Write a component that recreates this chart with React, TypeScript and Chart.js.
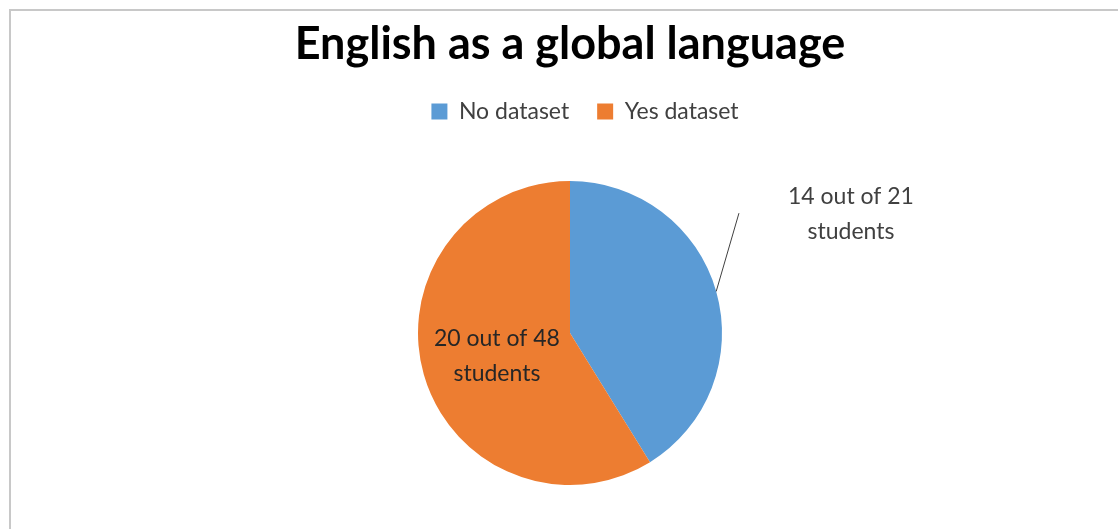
import { useEffect, useRef } from "react";
import { Chart, registerables } from "chart.js";

Chart.register(...registerables);

const TITLE = "English as a global language";
const CATEGORIES = ["No dataset", "Yes dataset"];
const VALUES = [14, 20];
const SLICE_LABELS = [["14 out of 21", "students"], ["20 out of 48", "students"]];
const COLORS = ["#5B9BD5", "#ED7D31"];

const FONT = "Lato, 'DejaVu Sans', sans-serif";

// excel style labels: one outside with a leader line, one inside the slice
const sliceLabels = {
  id: "sliceLabels",
  afterLayout(chart: any) {
    // legend sits a little right of the title in the original
    chart.legend.left += 15;
    chart.legend.right += 15;
  },
  afterDatasetsDraw(chart: Chart) {
    const ctx = chart.ctx;
    const arcs = chart.getDatasetMeta(0).data as any[];
    ctx.save();
    ctx.font = `23px ${FONT}`;
    ctx.textAlign = "center";
    ctx.textBaseline = "middle";
    arcs.forEach((arc, i) => {
      const { x, y, startAngle, endAngle, outerRadius } = arc.getProps(
        ["x", "y", "startAngle", "endAngle", "outerRadius"], true);
      const mid = (startAngle + endAngle) / 2;
      const lines = SLICE_LABELS[i];
      let lx: number, ly: number;
      if (i === 0) {
        const a = mid - 0.123;
        lx = x + Math.cos(a) * outerRadius * 2.007;
        ly = y + Math.sin(a) * outerRadius * 2.007;
        ctx.strokeStyle = "#404040";
        ctx.lineWidth = 1;
        ctx.beginPath();
        ctx.moveTo(x + Math.cos(mid) * outerRadius, y + Math.sin(mid) * outerRadius);
        ctx.lineTo(lx - 112, ly - 1);
        ctx.stroke();
        ctx.fillStyle = "#404040";
      } else {
        lx = x + Math.cos(mid) * outerRadius * 0.5;
        ly = y + Math.sin(mid) * outerRadius * 0.5 + 2;
        ctx.fillStyle = "#262626";
      }
      lines.forEach((t, k) => ctx.fillText(t, lx, ly + (k - (lines.length - 1) / 2) * 35));
    });
    ctx.restore();
  },
};

export default function App() {
  const canvasRef = useRef<HTMLCanvasElement | null>(null);

  useEffect(() => {
    if (!canvasRef.current) return;
    const chart = new Chart(canvasRef.current, {
      type: "pie",
      data: {
        labels: CATEGORIES,
        datasets: [{ data: VALUES, backgroundColor: COLORS, borderWidth: 0 }],
      },
      options: {
        responsive: false,
        animation: false,
        devicePixelRatio: 1,
        radius: 152,
        layout: { padding: { left: 22, right: 0, top: 0, bottom: 9 } },
        plugins: {
          title: {
            display: true,
            text: TITLE,
            color: "#000",
            font: { family: FONT, size: 45, weight: "bold", lineHeight: 1.2 },
            padding: { top: 17, bottom: 1 },
          },
          legend: {
            position: "top",
            labels: {
              color: "#404040",
              font: { family: FONT, size: 23 },
              boxWidth: 16,
              boxHeight: 16,
              padding: 28,
            },
          },
          // empty spacer below the legend
          subtitle: {
            display: true,
            text: " ",
            weight: 500,
            font: { size: 1, lineHeight: 1 },
            padding: { top: 12, bottom: 0 },
          } as any,
          tooltip: { enabled: false },
        },
      },
      plugins: [sliceLabels],
    });
    return () => chart.destroy();
  }, []);

  return (
    <>
      <div style={{
        position: "fixed", left: 9, top: 9, width: 1200, height: 600,
        borderTop: "2px solid #c8c8c8", borderLeft: "2px solid #c8c8c8",
      }} />
      <canvas ref={canvasRef} width={1118} height={529}
        style={{ position: "fixed", left: 0, top: 0, width: 1118, height: 529 }} />
    </>
  );
}
